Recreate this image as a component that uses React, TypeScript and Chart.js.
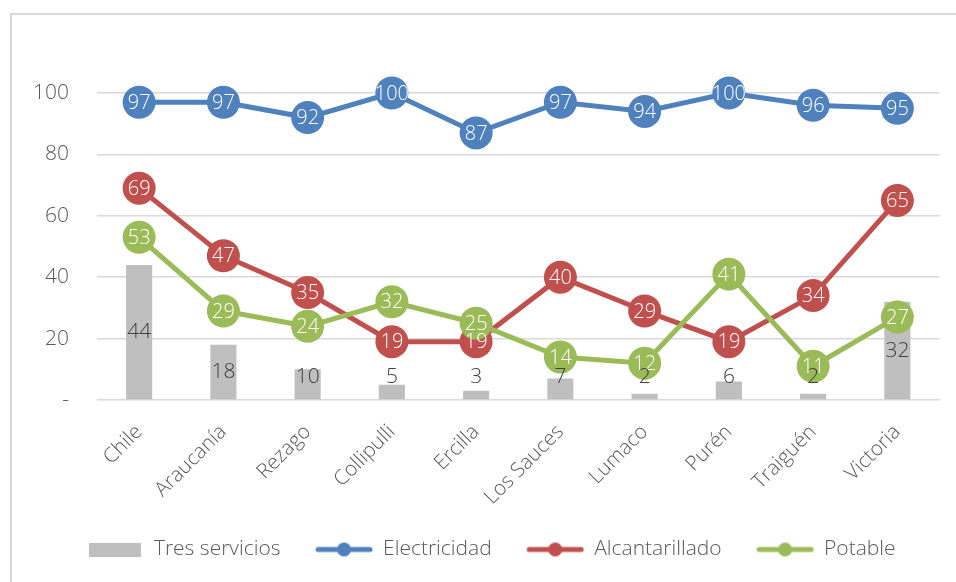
import React, { useEffect, useRef } from "react";
import { Chart, registerables } from "chart.js";

Chart.register(...registerables);

const categories = ["Chile", "Araucanía", "Rezago", "Collipulli", "Ercilla", "Los Sauces", "Lumaco", "Purén", "Traiguén", "Victoria"];
const tresServicios = [44, 18, 10, 5, 3, 7, 2, 6, 2, 32];
const electricidad = [97, 97, 92, 100, 87, 97, 94, 100, 96, 95];
const alcantarillado = [69, 47, 35, 19, 19, 40, 29, 19, 34, 65];
const potable = [53, 29, 24, 32, 25, 14, 12, 41, 11, 27];
const seriesNames = ["Tres servicios", "Electricidad", "Alcantarillado", "Potable"];
const yMin = 0;
const yMax = 100;
const yStep = 20;

const GRAY = "#BFBFBF";
const BLUE = "#4F81BD";
const RED = "#C0504D";
const GREEN = "#9BBB59";
const TEXT = "#595959";
const FONT = "'Open Sans', 'Liberation Sans', sans-serif";

function makeLineIcon(color: string) {
  const c = document.createElement("canvas");
  c.width = 58;
  c.height = 18;
  const ctx = c.getContext("2d")!;
  ctx.strokeStyle = color;
  ctx.lineWidth = 5;
  ctx.lineCap = "round";
  ctx.beginPath();
  ctx.moveTo(3, 9);
  ctx.lineTo(55, 9);
  ctx.stroke();
  ctx.fillStyle = color;
  ctx.beginPath();
  ctx.arc(29, 9, 7, 0, Math.PI * 2);
  ctx.fill();
  return c;
}

function makeBoxIcon(color: string) {
  const c = document.createElement("canvas");
  c.width = 52;
  c.height = 14;
  const ctx = c.getContext("2d")!;
  ctx.fillStyle = color;
  ctx.fillRect(0, 0, 52, 14);
  return c;
}

const framePlugin = {
  id: "frame",
  beforeDraw(chart: any) {
    const ctx = chart.ctx;
    ctx.save();
    ctx.fillStyle = "#ffffff";
    ctx.fillRect(0, 0, chart.width, chart.height);
    ctx.strokeStyle = "#D9D9D9";
    ctx.lineWidth = 2;
    ctx.beginPath();
    ctx.moveTo(11, chart.height + 5);
    ctx.lineTo(11, 14);
    ctx.lineTo(chart.width + 5, 14);
    ctx.stroke();
    ctx.restore();
  },
};

const legendShiftPlugin = {
  id: "legendShift",
  afterLayout(chart: any) {
    const lg = chart.legend;
    if (lg) {
      lg.left += 15;
      lg.right += 15;
    }
  },
};

const labelPlugin = {
  id: "valueLabels",
  afterDatasetsDraw(chart: any) {
    const ctx = chart.ctx;
    const yScale = chart.scales.y;
    ctx.save();
    ctx.textAlign = "center";
    ctx.textBaseline = "middle";
    chart.data.datasets.forEach((ds: any, i: number) => {
      if (ds.type !== "line") return;
      const meta = chart.getDatasetMeta(i);
      ctx.fillStyle = "#ffffff";
      ctx.font = `300 20px ${FONT}`;
      meta.data.forEach((pt: any, j: number) => {
        ctx.fillText(String(ds.data[j]), pt.x, pt.y + 1);
      });
    });
    chart.data.datasets.forEach((ds: any, i: number) => {
      if (ds.type !== "bar") return;
      const meta = chart.getDatasetMeta(i);
      ctx.fillStyle = "#404040";
      ctx.font = `300 21px ${FONT}`;
      meta.data.forEach((bar: any, j: number) => {
        const v = ds.data[j];
        const y = yScale.getPixelForValue(Math.max(v / 2, 7.5));
        ctx.fillText(String(v), bar.x, y);
      });
    });
    ctx.restore();
  },
};

export default function App() {
  const ref = useRef<HTMLCanvasElement | null>(null);

  useEffect(() => {
    if (!ref.current) return;
    const icons = [makeBoxIcon(GRAY), makeLineIcon(BLUE), makeLineIcon(RED), makeLineIcon(GREEN)];
    const lineCommon = {
      type: "line" as const,
      borderWidth: 5,
      pointRadius: 16.5,
      pointHoverRadius: 16.5,
      pointBorderWidth: 0,
      tension: 0,
      clip: false as any,
    };
    const chart = new Chart(ref.current, {
      type: "bar",
      data: {
        labels: categories,
        datasets: [
          {
            ...lineCommon,
            label: seriesNames[1],
            data: electricidad,
            borderColor: BLUE,
            backgroundColor: BLUE,
            pointBackgroundColor: BLUE,
            order: 2,
          },
          {
            ...lineCommon,
            label: seriesNames[2],
            data: alcantarillado,
            borderColor: RED,
            backgroundColor: RED,
            pointBackgroundColor: RED,
            order: 1,
          },
          {
            ...lineCommon,
            label: seriesNames[3],
            data: potable,
            borderColor: GREEN,
            backgroundColor: GREEN,
            pointBackgroundColor: GREEN,
            order: 0,
          },
          {
            type: "bar",
            label: seriesNames[0],
            data: tresServicios,
            backgroundColor: GRAY,
            categoryPercentage: 1,
            barPercentage: 0.31,
            order: 3,
          },
        ] as any,
      },
      options: {
        animation: false,
        responsive: false,
        events: [],
        layout: { padding: { top: 93, left: 12, right: 16, bottom: 12 } },
        plugins: {
          tooltip: { enabled: false },
          legend: {
            position: "bottom",
            labels: {
              usePointStyle: true,
              pointStyleWidth: 57,
              padding: 35,
              color: TEXT,
              font: { family: FONT, size: 21, weight: "300" as any },
              generateLabels: () =>
                seriesNames.map((name, k) => ({
                  text: name,
                  pointStyle: icons[k] as any,
                  fillStyle: "transparent",
                  strokeStyle: "transparent",
                  lineWidth: 0,
                  hidden: false,
                  datasetIndex: k,
                  fontColor: TEXT,
                })),
            },
          },
        },
        scales: {
          x: {
            clip: false,
            grid: { display: false },
            border: { display: false },
            ticks: {
              color: TEXT,
              font: { family: FONT, size: 20.5, weight: "300" as any },
              maxRotation: 45,
              minRotation: 45,
              autoSkip: false,
              padding: 12,
            },
            afterFit: (scale: any) => {
              scale.height = 104;
            },
          } as any,
          y: {
            min: yMin,
            max: yMax,
            border: { display: false },
            grid: { color: "#D9D9D9", lineWidth: 1.5, drawTicks: false },
            ticks: {
              stepSize: yStep,
              color: TEXT,
              padding: 28,
              font: { family: FONT, size: 21, weight: "300" as any },
              callback: (v: any) => (Number(v) === 0 ? "-" : String(v)),
            },
            afterFit: (scale: any) => {
              scale.width = 85;
            },
          },
        },
      },
      plugins: [framePlugin, legendShiftPlugin, labelPlugin],
    });
    return () => chart.destroy();
  }, []);

  return (
    <div style={{ position: "absolute", left: 0, top: 0, width: 956, height: 582 }}>
      <canvas ref={ref} width={956} height={582} style={{ display: "block", width: 956, height: 582 }} />
    </div>
  );
}
